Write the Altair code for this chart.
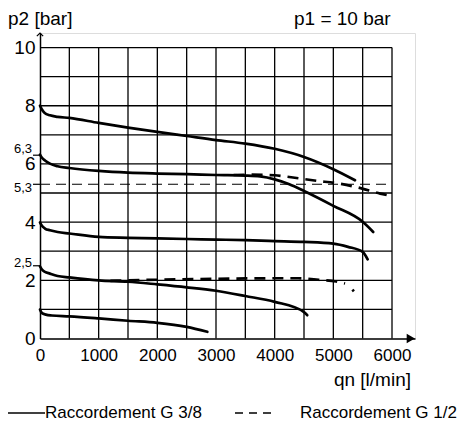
import altair as alt
import pandas as pd

# ---- data ----
c1_x = [0, 30, 80, 170, 300, 500, 1000, 1500, 2000, 2500, 3000, 3500, 4000, 4500, 5000, 5370]
c1_y = [8.0, 7.88, 7.75, 7.67, 7.62, 7.58, 7.41, 7.25, 7.10, 6.96, 6.82, 6.70, 6.52, 6.24, 5.82, 5.44]

c2_x = [0, 30, 85, 170, 300, 500, 1000, 1500, 2000, 2500, 3000, 3500, 3750, 4000, 4250, 4500, 5000, 5500, 5680]
c2_y = [6.32, 6.22, 6.12, 6.01, 5.92, 5.86, 5.76, 5.70, 5.67, 5.65, 5.62, 5.60, 5.57, 5.47, 5.30, 5.07, 4.56, 4.01, 3.66]

c3_x = [0, 30, 85, 170, 300, 500, 1000, 1500, 2000, 2500, 3000, 3500, 4000, 4500, 5000, 5250, 5500, 5585]
c3_y = [3.99, 3.88, 3.78, 3.72, 3.66, 3.61, 3.49, 3.46, 3.44, 3.42, 3.40, 3.38, 3.35, 3.32, 3.26, 3.15, 2.98, 2.72]

c4_x = [0, 30, 85, 170, 300, 500, 1000, 1500, 2000, 2500, 3000, 3500, 4000, 4500, 4555]
c4_y = [2.48, 2.38, 2.29, 2.23, 2.15, 2.10, 2.00, 1.95, 1.86, 1.76, 1.64, 1.46, 1.26, 0.91, 0.80]

c5_x = [0, 30, 100, 200, 500, 1000, 1500, 2000, 2500, 2852]
c5_y = [1.00, 0.88, 0.82, 0.79, 0.76, 0.69, 0.61, 0.54, 0.40, 0.23]

d1_x = [3300, 3600, 4000, 4250, 4720, 5080, 5420, 5800, 5910]
d1_y = [5.62, 5.63, 5.61, 5.55, 5.42, 5.33, 5.19, 4.98, 4.93]

d2_x = [1200, 1500, 2000, 3000, 3900, 4400, 4750, 5050, 5200]
d2_y = [1.98, 2.00, 2.02, 2.05, 2.07, 2.07, 2.02, 1.96, 1.89]

d2b_x = [5325, 5350]
d2b_y = [1.68, 1.62]

x_ticks = [0, 1000, 2000, 3000, 4000, 5000, 6000]
y_ticks = [0, 2, 4, 6, 8, 10]
grid_x = [500, 1000, 1500, 2000, 2500, 3000, 3500, 4000, 4500, 5000, 5500, 6000]
grid_y = [1, 2, 3, 4, 5, 6, 7, 8, 9, 10]
ref_vals = [6.3, 5.3, 2.5]
ref_labels = ["6,3", "5,3", "2,5"]
ref_line = 5.3

FONT = "Liberation Sans"
W, H = 375, 305.5
xs = alt.Scale(domain=[0, 6392], nice=False, zero=False)
ys = alt.Scale(domain=[0, 10.5], nice=False, zero=False)
xaxis = alt.Axis(values=x_ticks, ticks=False, grid=False, labelFontSize=17, labelFont=FONT,
                 labelColor="black", domainColor="black", domainWidth=1.5, labelPadding=9,
                 title=None, labelFlush=False, format="d")
yaxis = alt.Axis(values=y_ticks, ticks=False, grid=False, labelFontSize=19, labelFont=FONT,
                 labelColor="black", domainColor="black", domainWidth=1.5, labelPadding=5,
                 title=None, format="d")


def X(f):
    return alt.X(f, type="quantitative", scale=xs, axis=xaxis)


def Y(f):
    return alt.Y(f, type="quantitative", scale=ys, axis=yaxis)


layers = []

# grid
gv = pd.DataFrame({"x": grid_x, "y0": 0, "y1": 10})
layers.append(alt.Chart(gv).mark_rule(color="black", strokeWidth=1.3).encode(
    x=X("x"), y=Y("y0"), y2="y1"))
gh = pd.DataFrame({"y": grid_y, "x0": 0, "x1": 6000})
layers.append(alt.Chart(gh).mark_rule(color="black", strokeWidth=1.3).encode(
    y=Y("y"), x=X("x0"), x2="x1"))

# 5.3 reference dashed line
rl = pd.DataFrame({"y": [ref_line], "x0": [0], "x1": [5950]})
layers.append(alt.Chart(rl).mark_rule(color="black", strokeWidth=1.1, strokeDash=[10, 6]).encode(
    y=Y("y"), x=X("x0"), x2="x1"))


def curve_df(name, xv, yv):
    return pd.DataFrame({"s": name, "x": xv, "y": yv, "o": range(len(xv))})


solid = pd.concat([curve_df("c1", c1_x, c1_y), curve_df("c2", c2_x, c2_y),
                   curve_df("c3", c3_x, c3_y), curve_df("c4", c4_x, c4_y),
                   curve_df("c5", c5_x, c5_y)])
layers.append(alt.Chart(solid).mark_line(color="black", strokeWidth=2.7, interpolate="monotone",
                                         strokeCap="round").encode(
    x=X("x"), y=Y("y"), detail="s:N", order="o:Q"))

dashed = pd.concat([curve_df("d1", d1_x, d1_y), curve_df("d2", d2_x, d2_y)])
layers.append(alt.Chart(dashed).mark_line(color="black", strokeWidth=2.7, interpolate="monotone",
                                          strokeDash=[11, 7]).encode(
    x=X("x"), y=Y("y"), detail="s:N", order="o:Q"))
layers.append(alt.Chart(curve_df("d2b", d2b_x, d2b_y)).mark_line(color="black", strokeWidth=2.7).encode(
    x=X("x"), y=Y("y"), order="o:Q"))

# small extra y labels and their ticks
offs = [-6, 4, -3]
for v, lab, off in zip(ref_vals, ref_labels, offs):
    d = pd.DataFrame({"v": [v], "t": [lab]})
    layers.append(alt.Chart(d).mark_text(align="right", baseline="middle", fontSize=13, font=FONT,
                                         color="black", dy=off).encode(
        x=alt.value(-8), y=Y("v"), text="t:N"))
    layers.append(alt.Chart(d).mark_rule(color="black", strokeWidth=1.2).encode(
        x=alt.value(-7), x2=alt.value(0), y=Y("v")))

# axis arrows
layers.append(alt.Chart(pd.DataFrame({"x": [0], "y": [10.5]})).mark_point(
    shape="M-1,1L0,0L1,1", filled=False, color="black", strokeWidth=1.2, size=40, opacity=1).encode(
    x=X("x"), y=Y("y")))
layers.append(alt.Chart(pd.DataFrame({"x": [6320], "y": [0]})).mark_point(
    shape="triangle-right", filled=True, color="black", size=90, opacity=1).encode(
    x=X("x"), y=Y("y")))


def label(txt, px, py, size, align="left"):
    return alt.Chart(pd.DataFrame({"t": [txt]})).mark_text(
        align=align, baseline="middle", fontSize=size, font=FONT, color="black").encode(
        x=alt.value(px), y=alt.value(py), text="t:N")


layers.append(label("p2 [bar]", -32, -14, 19))
layers.append(label("p1 = 10 bar", 254, -14, 19))
layers.append(label("qn [l/min]", 371, 347, 19, "right"))

# legend
leg = pd.DataFrame({"a": [0]})
layers.append(alt.Chart(leg).mark_rule(color="black", strokeWidth=1.6).encode(
    x=alt.value(-33), x2=alt.value(5), y=alt.value(380)))
layers.append(label("Raccordement G 3/8", 5, 380, 17))
layers.append(alt.Chart(leg).mark_rule(color="black", strokeWidth=1.6, strokeDash=[8, 6]).encode(
    x=alt.value(195), x2=alt.value(233), y=alt.value(380)))
layers.append(label("Raccordement G 1/2", 260, 380, 17))

chart = alt.layer(*layers).properties(
    width=W, height=H,
    autosize=alt.AutoSizeParams(type="none"),
    padding={"left": 32, "top": 25, "right": 48, "bottom": 88},
).configure_view(stroke=None).configure(background="white")

chart.save("out.html", embed_options={"renderer": "svg", "actions": False})
